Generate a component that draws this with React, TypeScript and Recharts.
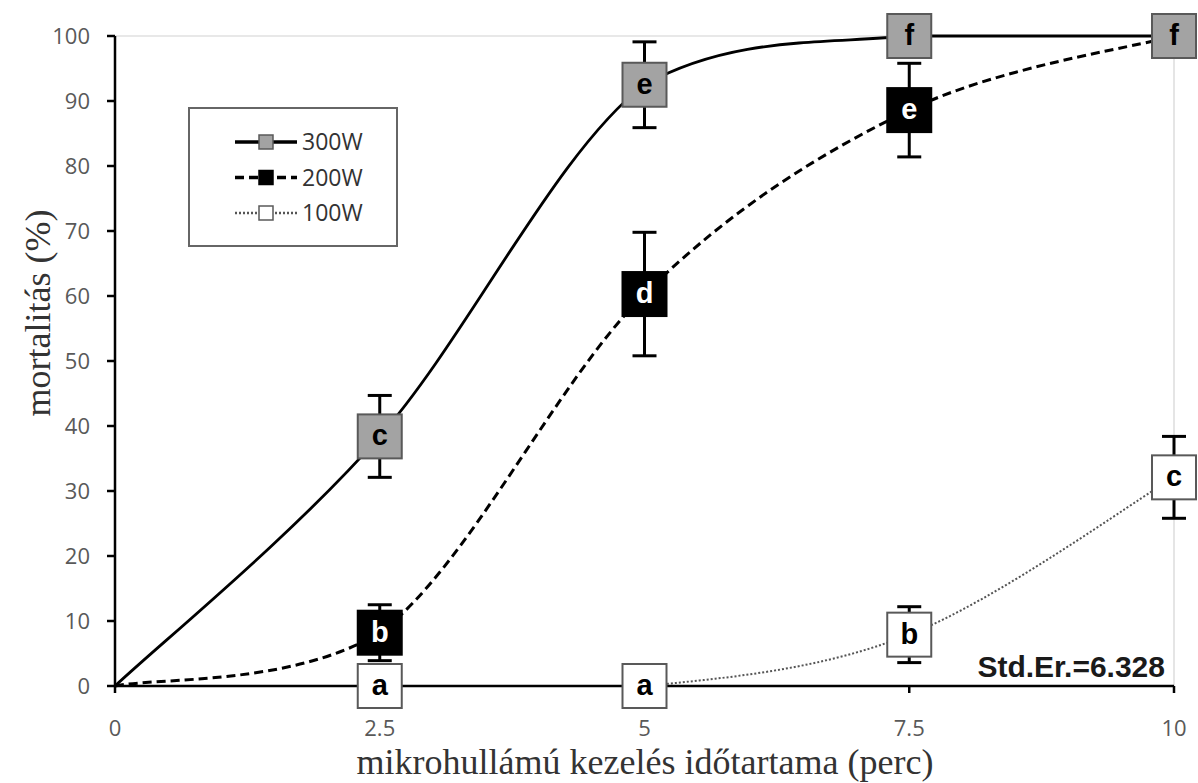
import { LineChart, Line, XAxis, YAxis, ErrorBar, ReferenceLine } from "recharts";

// kezelési idő (perc)
const times = [0, 2.5, 5, 7.5, 10];

// mortalitás (%) teljesítményenként
const mort300 = [0, 38.4, 92.5, 100, 100];
const mort200 = [0, 8.2, 60.3, 88.6, 100];
const mort100 = [0, 0, 0, 7.9, 32.1];

// standard hiba (±)
const err300 = [null, 6.3, 6.6, null, null];
const err200 = [null, 4.3, 9.5, 7.2, null];
const err100 = [null, null, null, 4.3, 6.3];

// szignifikancia betűk
const letters300 = ["", "c", "e", "f", "f"];
const letters200 = ["", "b", "d", "e", "f"];
const letters100 = ["", "a", "a", "b", "c"];

const xTicks = [0, 2.5, 5, 7.5, 10];
const yTicks = [0, 10, 20, 30, 40, 50, 60, 70, 80, 90, 100];

const data = times.map((t, i) => ({
  t,
  m300: mort300[i],
  m200: mort200[i],
  m100: mort100[i],
  e300: err300[i],
  e200: err200[i],
  e100: err100[i],
}));

const series = [
  { key: "m100", err: "e100", name: "100W", letters: letters100, fill: "#ffffff", border: "#595959", text: "#000", stroke: "#555", dash: "2 2", width: 2 },
  { key: "m200", err: "e200", name: "200W", letters: letters200, fill: "#000000", border: "#000", text: "#fff", stroke: "#000", dash: "9 5", width: 3 },
  { key: "m300", err: "e300", name: "300W", letters: letters300, fill: "#a3a3a3", border: "#595959", text: "#000", stroke: "#000", dash: undefined, width: 2.8 },
];

// Excel-like smoothed line (Catmull-Rom -> bezier), control points kept between neighbours in y
const excelCurve = (context: any) => {
  let pts: number[][] = [];
  const clamp = (v: number, a: number, b: number) => Math.min(Math.max(v, Math.min(a, b)), Math.max(a, b));
  return {
    areaStart() {},
    areaEnd() {},
    lineStart() {
      pts = [];
    },
    point(x: number, y: number) {
      pts.push([+x, +y]);
    },
    lineEnd() {
      if (!pts.length) return;
      context.moveTo(pts[0][0], pts[0][1]);
      for (let i = 0; i < pts.length - 1; i++) {
        const p0 = pts[i - 1] || pts[i];
        const p1 = pts[i];
        const p2 = pts[i + 1];
        const p3 = pts[i + 2] || p2;
        context.bezierCurveTo(
          p1[0] + (p2[0] - p0[0]) / 6,
          clamp(p1[1] + (p2[1] - p0[1]) / 6, p1[1], p2[1]),
          p2[0] - (p3[0] - p1[0]) / 6,
          clamp(p2[1] - (p3[1] - p1[1]) / 6, p1[1], p2[1]),
          p2[0],
          p2[1]
        );
      }
    },
  };
};

const makeDot = (s: any) => (props: any) => {
  const { cx, cy, index } = props;
  const letter = s.letters[index];
  if (!letter || cx == null || cy == null) return <g key={`${s.key}-${index}`} />;
  return (
    <g key={`${s.key}-${index}`}>
      <rect x={cx - 22} y={cy - 22} width={44} height={44} fill={s.fill} stroke={s.border} strokeWidth={2} />
      <text
        x={cx}
        y={cy + 9}
        textAnchor="middle"
        fontFamily="'Liberation Sans', Arial, sans-serif"
        fontWeight="bold"
        fontSize={29}
        fill={s.text}
      >
        {letter}
      </text>
    </g>
  );
};

const XTick = (props: any) => {
  const { x, y, payload } = props;
  return (
    <text x={x} y={y + 23} textAnchor="middle" fontSize={22} fontFamily="'Open Sans', sans-serif" fill="#595959">
      {payload.value}
    </text>
  );
};

const YTick = (props: any) => {
  const { x, y, payload } = props;
  return (
    <text x={x} y={y + 8} textAnchor="end" fontSize={22} fontFamily="'Open Sans', sans-serif" fill="#595959">
      {payload.value}
    </text>
  );
};

export default function App() {
  const legendOrder = [series[2], series[1], series[0]];
  return (
    <div style={{ position: "relative", width: 1198, height: 783, background: "#fff" }}>
      <style>{"body{margin:0}"}</style>
      <LineChart width={1198} height={783} data={data} margin={{ top: 36, right: 24, left: 55, bottom: 47 }}>
        <ReferenceLine y={100} stroke="#e0e0e0" strokeWidth={1.5} />
        <ReferenceLine x={10} stroke="#dcdcdc" strokeWidth={1.5} />
        <XAxis
          type="number"
          dataKey="t"
          domain={[0, 10]}
          ticks={xTicks}
          tick={<XTick />}
          axisLine={{ stroke: "#000", strokeWidth: 2.5 }}
          tickLine={{ stroke: "#000", strokeWidth: 2.5 }}
          tickSize={7}
          tickMargin={20}
          height={50}
        />
        <YAxis
          type="number"
          domain={[0, 100]}
          ticks={yTicks}
          tick={<YTick />}
          axisLine={{ stroke: "#000", strokeWidth: 2.5 }}
          tickLine={{ stroke: "#000", strokeWidth: 2.5 }}
          tickSize={8}
          tickMargin={17}
          width={60}
        />
        {series.map((s) => (
          <Line
            key={s.key}
            dataKey={s.key}
            name={s.name}
            type={excelCurve as any}
            stroke={s.stroke}
            strokeWidth={s.width}
            strokeDasharray={s.dash}
            dot={makeDot(s)}
            activeDot={false}
            isAnimationActive={false}
          >
            <ErrorBar dataKey={s.err} direction="y" width={12} strokeWidth={3} stroke="#000" />
          </Line>
        ))}
      </LineChart>
      <svg
        width={1198}
        height={783}
        style={{ position: "absolute", left: 0, top: 0, pointerEvents: "none" }}
      >
        <rect x={189} y={108} width={208} height={138} fill="#fff" stroke="#666" strokeWidth={2} />
        {legendOrder.map((s, i) => {
          const y = 142 + i * 35.5;
          return (
            <g key={s.name}>
              <line x1={235} x2={297} y1={y} y2={y} stroke={s.stroke} strokeWidth={s.width + 0.5} strokeDasharray={s.dash} />
              <rect x={259} y={y - 7} width={14} height={14} fill={s.fill} stroke={s.border} strokeWidth={1.5} />
              <text x={302} y={y + 8} fontSize={23} fontFamily="'Open Sans', sans-serif" fill="#333">
                {s.name}
              </text>
            </g>
          );
        })}
        <text
          x={1165}
          y={677}
          textAnchor="end"
          fontFamily="'Liberation Sans', Arial, sans-serif"
          fontWeight="bold"
          fontSize={30}
          fill="#1a1a1a"
        >
          Std.Er.=6.328
        </text>
        <text
          x={645}
          y={774}
          textAnchor="middle"
          fontFamily="'Liberation Serif', 'Times New Roman', serif"
          fontSize={36}
          fill="#333"
        >
          mikrohullámú kezelés időtartama (perc)
        </text>
        <text
          x={50}
          y={313}
          transform="rotate(-90 50 313)"
          textAnchor="middle"
          fontFamily="'Liberation Serif', 'Times New Roman', serif"
          fontSize={36}
          fill="#333"
        >
          mortalitás (%)
        </text>
      </svg>
    </div>
  );
}
